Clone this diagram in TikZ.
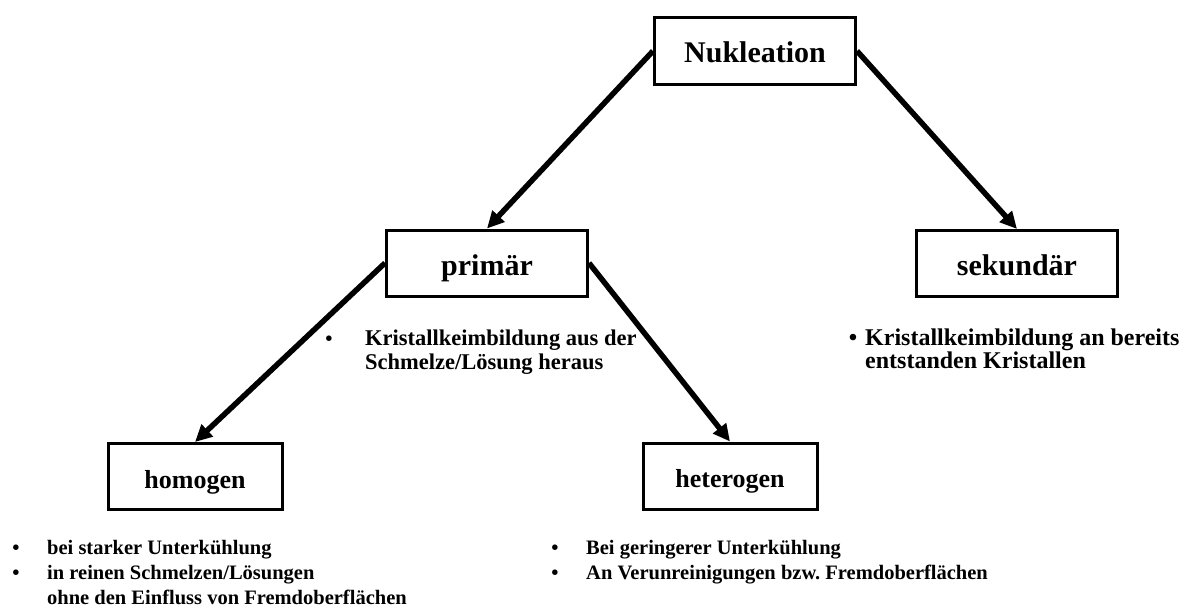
\documentclass[tikz,border=0pt]{standalone}
\usepackage{fontspec}
\setmainfont{Liberation Serif}
\usetikzlibrary{arrows.meta}

\begin{document}
\frenchspacing
\begin{tikzpicture}[
    x = 1pt,
    y = -1pt,
    >={Triangle[length=17pt,width=16pt]},
    box/.style = {
      draw,
      rectangle,
      line width = 3pt,
      inner sep = 0pt,
      minimum width = 201pt,
      minimum height = 66pt,
      text height = 26pt,
      text depth = 2pt,
      font = \fontsize{30}{36}\selectfont\bfseries
    },
    smallbox/.style = {
      box,
      minimum width = 174pt,
      text height = 24pt,
      text depth = 1pt,
      font = \fontsize{26}{31}\selectfont\bfseries
    },
    link/.style = {->, line width = 5.5pt},
    note/.style = {
      anchor = base west,
      inner sep = 0pt,
      font = \fontsize{20.5}{24}\selectfont\bfseries
    },
    bignote/.style = {note, font = \fontsize{22.5}{26}\selectfont\bfseries},
    dot/.style = {note, anchor = base}
  ]
  \useasboundingbox (0,0) rectangle (1190,610);

  \node[box] (nuk) at (755,51) {Nukleation};
  \node[box] (prim) at (487,263) {primär};
  \node[box] (sek) at (1017,263.5) {sekundär};
  \node[smallbox] (homo) at (195,476.5) {homogen};
  \node[smallbox] (hetero) at (730,476) {heterogen};

  \draw[link] (nuk.west) -- (prim.north);
  \draw[link] (nuk.east) -- (sek.north);
  \draw[link] (prim.west) -- (homo.north);
  \draw[link] (prim.east) -- (hetero.north);

  % primaer
  \node[dot] (pdot) at (329,345) {\textbullet};
  \node[bignote] (p1) at (365,345) {Kristallkeimbildung aus der};
  \node[bignote] (p2) at (365,369) {Schmelze/Lösung heraus};

  % sekundaer
  \node[dot, font=\fontsize{24}{28}\selectfont\bfseries] (sdot) at (853,345) {\textbullet};
  \node[bignote, font=\fontsize{24}{28}\selectfont\bfseries] (s1) at (865,345) {Kristallkeimbildung an bereits};
  \node[bignote, font=\fontsize{24}{28}\selectfont\bfseries] (s2) at (865,368) {entstanden Kristallen};

  % homogen
  \node[dot] (hdot1) at (16,554) {\textbullet};
  \node[dot] (hdot2) at (16,579) {\textbullet};
  \node[note] (h1) at (47,554) {bei starker Unterkühlung};
  \node[note] (h2) at (47,579) {in reinen Schmelzen/Lösungen};
  \node[note] (h3) at (47,604) {ohne den Einfluss von Fremdoberflächen};

  % heterogen
  \node[dot] (edot1) at (555,554) {\textbullet};
  \node[dot] (edot2) at (555,579) {\textbullet};
  \node[note] (e1) at (586,554) {Bei geringerer Unterkühlung};
  \node[note] (e2) at (586,579) {An Verunreinigungen bzw. Fremdoberflächen};

\end{tikzpicture}
\end{document}
